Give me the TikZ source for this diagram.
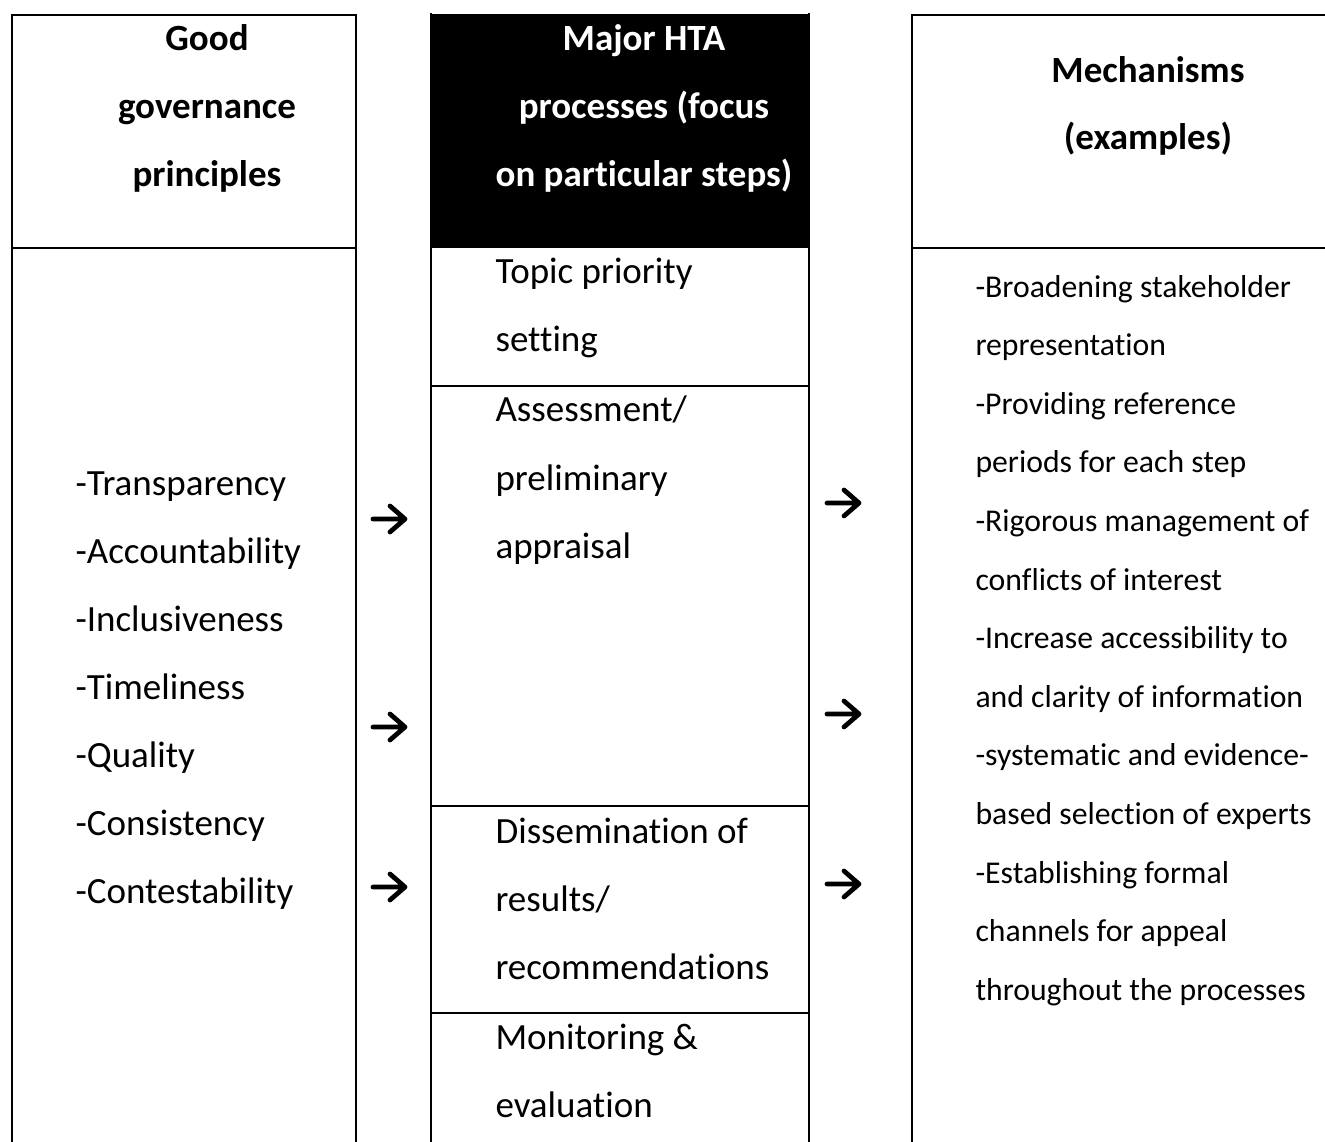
\documentclass[tikz,border=0pt]{standalone}
\usepackage{fontspec}
\setmainfont{Carlito}[Ligatures={NoCommon,NoContextual}]
\begin{document}
\begin{tikzpicture}[x=0.3784pt,y=-0.3784pt,
  grid/.style={line width=1pt, line cap=rect},
  hd/.style={font=\fontsize{14}{16}\selectfont\bfseries, inner sep=0, anchor=base},
  bd/.style={font=\fontsize{14}{16}\selectfont, inner sep=0, anchor=base west},
  sm/.style={font=\fontsize{12}{14}\selectfont, inner sep=0, anchor=base west},
  arr/.style={line width=1.8pt, line cap=round, line join=round},
  rarrow/.pic={\draw[arr] (-16,0) -- (15,0) (1,-13) -- (16,0) -- (1,13);}]

\useasboundingbox (0,0) rectangle (1325,1142);

% black header of middle column
\fill[black] (431,14) rectangle (809,248);

% grid lines
\draw[grid] (12,1142) -- (12,15) -- (356,15) -- (356,1142);
\draw[grid] (12,248) -- (356,248);
\draw[grid] (431,14) -- (431,1142);
\draw[grid] (809,14) -- (809,1142);
\draw[grid] (431,386) -- (809,386);
\draw[grid] (431,806) -- (809,806);
\draw[grid] (431,1013) -- (809,1013);
\draw[grid] (1330,15) -- (912,15) -- (912,1142);
\draw[grid] (912,248) -- (1330,248);

% headers
\node[hd] (gh1) at (207,51) {Good};
\node[hd] (gh2) at (207,118.5) {governance};
\node[hd] (gh3) at (207,186) {principles};
\node[hd,text=white] (mh1) at (644,51) {Major HTA};
\node[hd,text=white] (mh2) at (644,118.5) {processes (focus};
\node[hd,text=white] (mh3) at (644,186) {on particular steps)};
\node[hd] (rh1) at (1148,83) {Mechanisms};
\node[hd] (rh2) at (1148,150) {(examples)};

% principles
\foreach \t [count=\i] in {-Transparency,-Accountability,-Inclusiveness,-Timeliness,-Quality,-Consistency,-Contestability}
  \node[bd] (gp\i) at (75,{495+68.1*(\i-1)}) {\t};

% processes
\node[bd] (p1) at (495,283) {Topic priority};
\node[bd] (p2) at (495,351) {setting};
\node[bd] (p3) at (495,421) {Assessment/};
\node[bd] (p4) at (495,490) {preliminary};
\node[bd] (p5) at (495,558) {appraisal};
\node[bd] (p6) at (495,843) {Dissemination of};
\node[bd] (p7) at (495,911) {results/};
\node[bd] (p8) at (495,979) {recommendations};
\node[bd] (p9) at (495,1049) {Monitoring \&};
\node[bd] (p10) at (495,1117) {evaluation};

% mechanisms
\foreach \t [count=\i] in {-Broadening stakeholder,representation,-Providing reference,periods for each step,-Rigorous management of,conflicts of interest,-Increase accessibility to,and clarity of information,-systematic and evidence-,based selection of experts,-Establishing formal,channels for appeal,throughout the processes}
  \node[sm] (m\i) at (975,{297+58.6*(\i-1)}) {\t};

% arrows
\pic (la1) at (389,519) {rarrow};
\pic (la2) at (389,727) {rarrow};
\pic (la3) at (389,887) {rarrow};
\pic (ra1) at (843,503) {rarrow};
\pic (ra2) at (843,714) {rarrow};
\pic (ra3) at (843,884) {rarrow};
\end{tikzpicture}
\end{document}
